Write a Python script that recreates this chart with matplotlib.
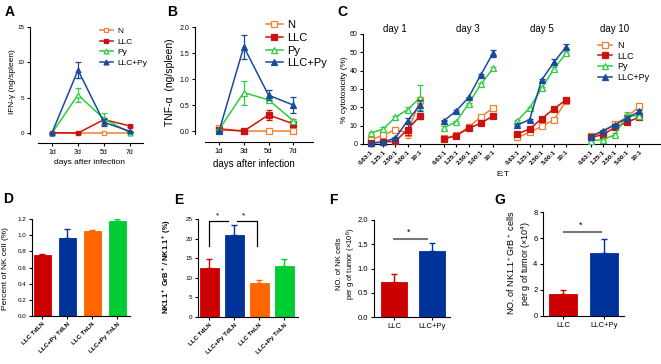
import matplotlib
matplotlib.use("Agg")
import matplotlib.pyplot as plt
import numpy as np

plt.rcParams["font.family"] = ["Liberation Sans", "DejaVu Sans"]
plt.rcParams["mathtext.default"] = "regular"

# ---- data ----
days = ["1d", "3d", "5d", "7d"]
series = ["N", "LLC", "Py", "LLC+Py"]

ifn = [[0, 0, 0, 0], [0.05, 0.0, 1.9, 1.0], [0.0, 5.4, 2.0, 0.05], [0.05, 8.9, 1.5, 0.25]]
ifn_err = [[0, 0, 0, 0], [0, 0, 0.2, 0.15], [0, 1.0, 0.8, 0.1], [0, 1.15, 0.5, 0.1]]

tnf = [[0.05, 0, 0, 0], [0.03, 0.0, 0.31, 0.14], [0.03, 0.74, 0.6, 0.2], [0.0, 1.62, 0.69, 0.5]]
tnf_err = [[0.01, 0, 0, 0], [0.01, 0, 0.1, 0.03], [0.01, 0.23, 0.03, 0.03], [0.01, 0.23, 0.09, 0.15]]

et_labels = ["0.63:1", "1.25:1", "2.50:1", "5.00:1", "10:1"]
day_titles = ["day 1", "day 3", "day 5", "day 10"]
cyto_n = [[2.4, 4.8, 7.9, 6.0, 23.8], [3.0, 4.8, 9.2, 14.8, 19.5],
          [3.6, 6.3, 9.6, 13.2, 23.5], [4.2, 6.0, 10.9, 14.7, 20.5]]
cyto_n_err = [[1, 1, 1.5, 2.5, 2], [0.3, 0.3, 0.5, 0.5, 0.8],
              [0.3, 0.3, 0.5, 0.5, 0.5], [0.5, 0.5, 0.8, 1, 1]]
cyto_llc = [[0.5, 1.1, 1.5, 7.9, 15.2], [2.8, 4.6, 8.6, 11.3, 15.3],
            [5.4, 8.2, 13.8, 19.2, 24.1], [3.6, 5.0, 9.0, 12.0, 14.5]]
cyto_llc_err = [[0.3, 0.3, 0.5, 3.0, 1.5], [0.3, 0.3, 0.5, 0.5, 0.5],
                [0.3, 0.3, 0.5, 0.5, 0.5], [0.5, 0.5, 0.8, 1.0, 1.0]]
cyto_py = [[6.0, 8.2, 14.6, 18.8, 25.2], [8.9, 12.2, 22.0, 32.5, 41.2],
           [12.7, 19.6, 30.4, 41.0, 49.5], [1.8, 2.4, 5.0, 15.8, 15.0]]
cyto_py_err = [[0.8, 0.8, 0.8, 1.5, 6.8], [0.8, 0.5, 0.5, 0.8, 0.8],
               [0.5, 0.5, 0.5, 0.8, 0.5], [0.5, 0.5, 0.8, 1.5, 1.0]]
cyto_llcpy = [[0.5, 1.1, 3.3, 12.8, 21.0], [12.8, 18.1, 25.4, 37.7, 49.5],
              [10.5, 13.2, 35.0, 44.6, 53.0], [4.0, 7.2, 10.5, 14.1, 17.8]]
cyto_llcpy_err = [[0.3, 0.3, 0.5, 1.5, 3.0], [0.5, 0.5, 0.5, 0.5, 2.0],
                  [0.5, 0.5, 0.5, 1.5, 1.5], [0.5, 0.5, 0.5, 1.0, 1.0]]

groups4 = ["LLC TdLN", "LLC+Py TdLN", "LLC TnLN", "LLC+Py TnLN"]
nk_pct = [0.75, 0.97, 1.05, 1.17]
nk_pct_err = [0.02, 0.11, 0.01, 0.03]
grb_pct = [12.4, 20.8, 8.7, 12.9]
grb_pct_err = [2.4, 2.6, 0.8, 2.0]

groups2 = ["LLC", "LLC+Py"]
nk_tumor = [0.73, 1.37]
nk_tumor_err = [0.15, 0.16]
grb_tumor = [1.7, 4.85]
grb_tumor_err = [0.3, 1.1]

# ---- styles ----
line_colors = ["#f28030", "#cc1111", "#2ecc40", "#1a4a9a"]
markers = ["s", "s", "^", "^"]
filled = [False, True, False, True]
bar_colors = ["#cc0000", "#003399", "#ff6600", "#00cc33"]

W, H = 661, 364
fig = plt.figure(figsize=(W / 100, H / 100), dpi=100)


def add_ax(x0, y0, x1, y1):
    return fig.add_axes([x0 / W, 1 - y1 / H, (x1 - x0) / W, (y1 - y0) / H])


def ftext(x, y, s, **kw):
    fig.text(x / W, 1 - y / H, s, **kw)


def prism(ax, size):
    for s in ["top", "right"]:
        ax.spines[s].set_visible(False)
    for s in ["left", "bottom"]:
        ax.spines[s].set_linewidth(0.8)
    ax.tick_params(length=2.5, width=0.8, labelsize=size, pad=1.5)


def line_series(ax, x, vals, errs, ms=3.5):
    handles = []
    for i in range(4):
        c = line_colors[i]
        cont = ax.errorbar(x, vals[i], yerr=errs[i], color=c, marker=markers[i],
                           mfc=c if filled[i] else "white", mec=c, ms=ms, mew=0.9,
                           lw=1.1, elinewidth=0.9, capsize=2, capthick=0.9,
                           clip_on=False, zorder=3 + i)
        handles.append(cont[0])
    return handles


# ---- A ----
ax = add_ax(38, 27, 143, 143)
prism(ax, 4.5)
x = np.arange(len(days))
h = line_series(ax, x, ifn, ifn_err)
ax.set_xlim(-0.54, 3.5)
ax.set_ylim(-1.41, 15)
ax.set_yticks([0, 5, 10, 15])
ax.set_xticks(x)
ax.set_xticklabels(days, fontsize=5)
ax.spines["left"].set_position(("outward", 5.8))
ax.spines["left"].set_bounds(-0.2, 15)
ax.legend(h, series, loc="upper left", bbox_to_anchor=(100 / W, 1 - 27 / H),
          bbox_transform=fig.transFigure, frameon=False, fontsize=6,
          borderpad=0, borderaxespad=0, handlelength=1.5, handletextpad=0.6,
          labelspacing=0.35)
ftext(90, 163, "days after infection", fontsize=6, ha="center", va="center")
ftext(13, 82, "IFN-γ (ng/spleen)", fontsize=6, rotation=90, ha="center", va="center")

# ---- B ----
ax = add_ax(205, 27, 313, 142)
prism(ax, 5)
h = line_series(ax, x, tnf, tnf_err, ms=4)
ax.set_xlim(-0.57, 3.8)
ax.set_ylim(-0.21, 2.0)
ax.set_yticks([0, 0.5, 1.0, 1.5, 2.0])
ax.set_xticks(x)
ax.set_xticklabels(days, fontsize=5.5)
ax.spines["left"].set_position(("outward", 7.2))
ax.spines["left"].set_bounds(-0.05, 2.0)
ax.legend(h, series, loc="upper left", bbox_to_anchor=(266 / W, 1 - 20 / H),
          bbox_transform=fig.transFigure, frameon=False, fontsize=8,
          borderpad=0, borderaxespad=0, handlelength=1.5, handletextpad=0.4,
          labelspacing=0.25)
ftext(254, 164, "days after infection", fontsize=7, ha="center", va="center")
ftext(170, 82, "TNF-α  (ng/spleen)", fontsize=7.5, rotation=90, ha="center", va="center")

# ---- C ----
ax = add_ax(363, 34, 660, 144)
prism(ax, 5)
offsets = [0, 6, 12, 18]
pos = np.arange(len(et_labels))
cyto = [cyto_n, cyto_llc, cyto_py, cyto_llcpy]
cyto_err = [cyto_n_err, cyto_llc_err, cyto_py_err, cyto_llcpy_err]
ticks, ticklabels = [], []
for d, off in enumerate(offsets):
    h = line_series(ax, pos + off, [c[d] for c in cyto], [e[d] for e in cyto_err], ms=4)
    ticks += list(pos + off)
    ticklabels += et_labels
    ftext(395 + (off * 12.2), 29, day_titles[d], fontsize=7, ha="center", va="center")
ax.set_xlim(-0.66, 23.7)
ax.set_ylim(0, 60)
ax.set_yticks(range(0, 61, 10))
ax.set_xticks(ticks)
ax.set_xticklabels(ticklabels, rotation=45, ha="right", rotation_mode="anchor",
                   fontsize=4.5, fontweight="bold")
ax.legend(h, series, loc="upper left", bbox_to_anchor=(598 / W, 1 - 41 / H),
          bbox_transform=fig.transFigure, frameon=False, fontsize=6.5,
          borderpad=0, borderaxespad=0, handlelength=1.6, handletextpad=0.5,
          labelspacing=0.18)
ftext(345, 90, "% cytotoxicity (%)", fontsize=6, rotation=90, ha="center", va="center")
ftext(503, 174, "E:T", fontsize=6, ha="center", va="center")


# ---- bar panels ----
def bar_panel(ax, vals, errs, labels, width, size):
    prism(ax, size)
    xb = np.arange(len(vals))
    for i in range(len(vals)):
        ax.bar(xb[i], vals[i], width, color=bar_colors[i], edgecolor=bar_colors[i],
               linewidth=0.6, zorder=2)
        ax.errorbar(xb[i], vals[i], yerr=[[0], [errs[i]]], color=bar_colors[i],
                    lw=0, elinewidth=1, capsize=2.5, capthick=1, zorder=1)
    ax.set_xticks(xb)
    return xb


ax = add_ax(32, 219, 130, 316)
xb = bar_panel(ax, nk_pct, nk_pct_err, groups4, 0.67, 4.5)
ax.set_xlim(-0.41, 3.5)
ax.set_ylim(0, 1.2)
ax.set_yticks(np.arange(0, 1.21, 0.2))
ax.set_yticklabels([f"{v:.1f}" for v in np.arange(0, 1.21, 0.2)])
ax.set_xticklabels(groups4, rotation=45, ha="right", rotation_mode="anchor",
                   fontsize=4.5, fontweight="bold")
ftext(6, 269, "Percent of NK cell (%)", fontsize=6, rotation=90, ha="center", va="center")

ax = add_ax(198, 219, 298, 317)
xb = bar_panel(ax, grb_pct, grb_pct_err, groups4, 0.74, 4.5)
ax.set_xlim(-0.45, 3.55)
ax.set_ylim(0, 25)
ax.set_yticks(range(0, 26, 5))
ax.set_xticklabels(groups4, rotation=45, ha="right", rotation_mode="anchor",
                   fontsize=4.5, fontweight="bold")
top, low = 24.4, 18
ax.plot([xb[0], xb[0], xb[1] - 0.24], [low, top, top], color="black", lw=0.9, clip_on=False)
ax.plot([xb[1] + 0.12, xb[2] - 0.11, xb[2] - 0.11], [top, top, low], color="black", lw=0.9, clip_on=False)
ax.text(xb[0] + 0.32, 25.8, "*", fontsize=6, ha="center", va="center")
ax.text(xb[1] + 0.39, 25.8, "*", fontsize=6, ha="center", va="center")
ftext(167, 266, "NK1.1$^+$ GrB$^+$ / NK1.1$^+$ (%)", fontsize=5.3, fontweight="bold",
      rotation=90, ha="center", va="center")

ax = add_ax(374, 220, 450, 317)
xb = bar_panel(ax, nk_tumor, nk_tumor_err, groups2, 0.7, 5.5)
ax.set_xlim(-0.53, 1.47)
ax.set_ylim(0, 2)
ax.set_yticks([0, 0.5, 1.0, 1.5, 2.0])
ax.set_yticklabels(["0.0", "0.5", "1.0", "1.5", "2.0"])
ax.set_xticklabels(groups2, fontsize=5.5)
ax.plot([xb[0], xb[1] - 0.13], [1.6, 1.6], color="#777777", lw=1.5)
ax.text(xb[0] + 0.38, 1.75, "*", fontsize=6.5, ha="center", va="center")
ftext(347, 264, "NO. of NK cells\nper g of tumor (×10$^6$)", fontsize=5.5,
      rotation=90, ha="center", va="center", multialignment="center")

ax = add_ax(543, 212, 624, 316)
xb = bar_panel(ax, grb_tumor, grb_tumor_err, groups2, 0.69, 5.5)
ax.set_xlim(-0.49, 1.49)
ax.set_ylim(0, 8)
ax.set_yticks([0, 2, 4, 6, 8])
ax.set_xticklabels(groups2, fontsize=5.5)
ax.plot([xb[0] + 0.02, xb[1] - 0.07], [6.43, 6.43], color="#777777", lw=1.5)
ax.text(xb[0] + 0.42, 6.95, "*", fontsize=6.5, ha="center", va="center")
ftext(519, 263, "NO. of NK1.1$^+$GrB$^+$ cells\nper g of tumor (×10$^4$)", fontsize=6.5,
      rotation=90, ha="center", va="center", multialignment="center")

# ---- panel letters ----
for lab, px, py in [("A", 5, 16), ("B", 167, 16), ("C", 337, 16),
                    ("D", 3, 203), ("E", 174, 204), ("F", 329, 204), ("G", 494, 204)]:
    ftext(px, py, lab, fontsize=10, fontweight="bold", va="baseline")

fig.savefig("out.png", dpi=100)
